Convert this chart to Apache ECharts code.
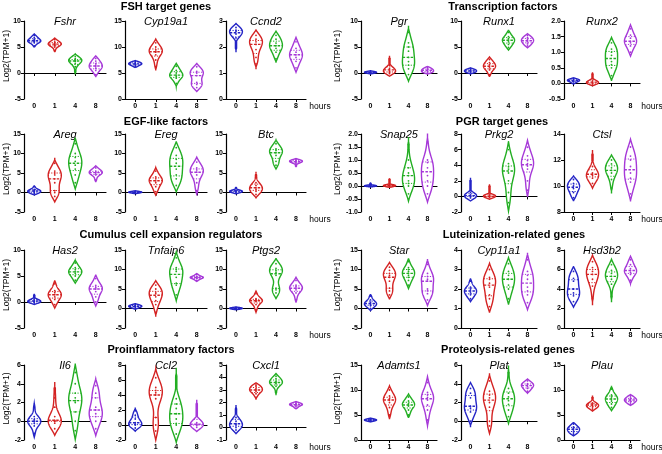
<!DOCTYPE html>
<html><head><meta charset="utf-8">
<script src="https://cdn.jsdelivr.net/npm/echarts@6/dist/echarts.min.js"></script>
<style>html,body{margin:0;padding:0;background:#fff}#c{width:662px;height:454px}</style>
</head><body><div id="c"></div>
<script>
// ---------- data ----------
const hours = ['0', '1', '4', '8'];
const genes = ['Fshr','Cyp19a1','Ccnd2','Pgr','Runx1','Runx2',
               'Areg','Ereg','Btc','Snap25','Prkg2','Ctsl',
               'Has2','Tnfaip6','Ptgs2','Star','Cyp11a1','Hsd3b2',
               'Il6','Ccl2','Cxcl1','Adamts1','Plat','Plau'];
const groupTitles = ['FSH target genes','Transcription factors','EGF-like factors','PGR target genes',
                     'Cumulus cell expansion regulators','Luteinization-related genes','Proinflammatory factors','Proteolysis-related genes'];
const yMin  = [-5, 0, 0, -5, -5, -0.5,  -5, -5, -5, -1, -2, 8,  -5, -5, -5, -5, 0, 0,  -2, -2, -1, 0, -2, 0];
const yMax  = [10, 15, 3, 10, 10, 2,    15, 15, 15, 2, 8, 14,   10, 15, 15, 15, 4, 8,   6, 8, 5, 15, 6, 15];
const yStep = [5, 5, 1, 5, 5, 0.5,      5, 5, 5, 0.5, 2, 2,     5, 5, 5, 5, 1, 2,       2, 2, 1, 5, 2, 5];
const yDec  = [0, 0, 0, 0, 0, 1,        0, 0, 0, 1, 0, 0,       0, 0, 0, 0, 0, 0,       0, 0, 0, 0, 0, 0];

// per gene: samples (Log2(TPM+1)) at 0, 1, 4, 8 hours
const Fshr    = [[5.2,5.8,6.0,6.3,6.5,6.8,7.2,6.1],[4.3,5.0,5.3,5.6,5.8,6.0,6.4,5.5],[0.2,1.2,1.8,2.2,2.5,2.8,3.2,2.4],[-0.3,0.5,0.9,1.2,1.5,1.8,2.3,2.8]];
const Cyp19a1 = [[6.2,6.5,6.8,7.0,6.7,7.2],[6.2,7.5,8.5,9.0,9.2,9.5,10.0,10.8],[3.0,4.0,4.3,4.6,5.0,5.5,6.3],[2.2,2.8,3.2,4.5,5.0,5.3,6.2]];
const Ccnd2   = [[1.95,2.35,2.5,2.6,2.65,2.75],[1.35,1.6,1.9,2.1,2.2,2.3,2.45],[1.55,1.8,1.95,2.05,2.15,2.3,2.45],[1.2,1.45,1.6,1.7,1.8,1.95,2.2]];
const Pgr     = [[0.0,0.05,0.1,0.15,0.2,0.25],[-0.1,0.1,0.3,0.6,0.9,1.5,2.8],[-0.3,0.8,1.5,2.2,3.0,4.2,5.0,5.8,7.8],[0.0,0.2,0.4,0.6,0.8,1.1]];
const Runx1   = [[0.0,0.2,0.3,0.5,0.6,0.8],[-0.3,0.6,1.0,1.3,1.6,2.0,2.6],[4.9,5.5,6.0,6.3,6.6,7.0,7.8],[5.2,5.6,6.0,6.2,6.5,6.8,7.2]];
const Runx2   = [[0.0,0.05,0.08,0.1,0.12,0.15],[-0.02,0.0,0.02,0.04,0.08,0.15,0.3],[0.25,0.5,0.6,0.7,0.9,1.0,1.1,1.3],[1.0,1.2,1.3,1.35,1.45,1.55,1.75]];
const Areg    = [[-0.3,0.0,0.3,0.5,0.8,1.5],[-1.0,0.0,0.5,2.5,3.5,4.5,5.0,5.5,7.5],[2.5,4.5,6.0,7.0,8.0,9.0,10.0,12.5],[3.2,4.5,5.0,5.2,5.5,6.3]];
const Ereg    = [[-0.1,0.0,0.05,0.1,0.15,0.2],[0.2,1.5,2.5,3.0,3.5,4.0,5.5],[1.8,3.5,4.5,6.0,7.5,8.5,9.5,11.5],[0.5,2.5,4.5,5.2,5.8,6.3,7.8]];
const Btc     = [[-0.1,0.1,0.3,0.4,0.6,1.2],[-0.5,0.3,0.8,1.2,1.8,2.5,4.5],[7.0,8.0,9.5,10.2,10.8,11.2,12.5],[6.8,7.5,7.8,8.0,8.2,8.4]];
const Snap25  = [[0.0,0.0,0.0,0.0,0.02,0.1],[0.0,0.0,0.0,0.02,0.05,0.25],[-0.3,0.0,0.1,0.2,0.4,0.5,0.7,1.0,1.6],[-0.3,0.0,0.2,0.4,0.7,0.9,1.0,1.7]];
const Prkg2   = [[-0.2,0.0,0.0,0.1,0.2,0.5,2.0],[-0.1,0.0,0.0,0.0,0.1,0.3,1.3],[-0.8,0.5,2.0,3.0,3.5,3.8,4.2,6.0],[0.8,2.0,3.5,3.9,4.2,4.6,5.2,6.3]];
const Ctsl    = [[9.1,9.5,9.8,10.0,10.2,10.5],[10.2,10.6,10.8,10.9,11.0,11.5,12.4],[9.8,10.5,11.0,11.2,11.4,11.7,12.0],[9.4,10.3,10.6,11.0,11.5,12.0,12.3,13.0]];
const Has2    = [[-0.2,0.0,0.1,0.3,0.6,1.3],[-0.5,0.5,1.0,1.4,1.8,2.2,3.5],[4.2,5.0,5.5,5.8,6.2,6.6,7.5],[0.0,1.0,2.0,2.5,2.8,3.2,4.5]];
const Tnfaip6 = [[0.0,0.3,0.5,0.6,0.8,1.0],[-1.0,1.0,2.0,3.0,3.8,4.2,5.0,6.0],[3.5,6.0,6.5,8.0,9.5,10.0,10.5,13.0],[7.2,7.7,7.9,8.0,8.2,8.7]];
const Ptgs2   = [[-0.1,0.0,0.0,0.05,0.1,0.15],[-0.3,1.0,1.8,2.0,2.2,2.5,3.8],[4.0,4.8,5.2,8.5,9.3,9.8,10.3,11.5],[2.3,4.0,4.8,5.2,5.6,6.0,7.2]];
const Star    = [[0.0,0.7,1.0,1.3,1.6,2.2,3.2],[3.5,4.5,5.2,7.0,8.0,8.5,9.0,9.8,10.6],[6.0,7.2,8.0,8.5,9.0,9.5,10.0,10.5,12.0],[2.2,3.8,4.5,5.0,7.0,7.5,8.2,9.0,11.3]];
const Cyp11a1 = [[1.5,1.7,1.8,1.9,2.0,2.1,2.4],[1.1,1.5,1.7,2.1,2.3,2.5,2.6,3.0],[1.5,2.0,2.2,2.5,2.7,2.9,3.3],[1.3,1.7,1.9,2.1,2.5,2.7,2.9,3.5]];
const Hsd3b2  = [[2.7,3.3,3.6,4.0,4.8,5.1,5.8],[3.0,4.3,5.0,5.5,5.8,6.2,6.8],[3.2,4.5,5.0,5.3,5.6,5.9,6.5],[4.9,5.5,5.7,5.9,6.1,6.5,7.0]];
const Il6     = [[-1.3,-0.5,-0.2,0.0,0.0,0.2,0.5,1.5],[-0.8,-0.2,0.0,0.0,0.1,0.5,1.5,2.5,3.5],[-1.0,0.0,1.0,2.0,2.2,2.5,3.0,4.0,5.2],[-0.8,0.0,0.5,0.8,1.2,1.5,2.5,3.0,3.8]];
const Ccl2    = [[-0.4,0.0,0.1,0.3,0.8,1.3,1.9],[-0.8,0.0,1.0,3.5,4.0,4.3,4.6,5.0,6.3],[-1.2,0.0,0.2,0.8,1.5,2.2,2.8,3.5,6.5],[-0.3,0.0,0.0,0.1,0.3,1.2,2.8]];
const Cxcl1   = [[-0.2,0.0,0.2,0.3,0.5,0.8,1.5],[2.4,2.7,2.9,3.0,3.1,3.3,3.4],[2.8,3.3,3.5,3.6,3.7,3.9,4.1],[1.55,1.7,1.8,1.85,1.9,2.0]];
const Adamts1 = [[3.8,3.9,4.0,4.1,4.2],[5.0,6.5,7.5,8.0,8.3,8.8,10.0],[5.0,6.0,6.8,7.0,7.3,7.8,8.6],[4.0,6.0,7.0,8.0,8.5,9.0,9.5,11.5]];
const Plat    = [[0.0,1.0,1.4,1.6,2.5,3.0,3.5],[-0.5,0.0,1.5,2.0,2.5,2.8,3.2,4.3],[0.5,1.2,1.8,2.2,2.6,3.0,3.5,5.2],[3.2,3.5,3.7,3.9,4.0,4.3]];
const Plau    = [[1.2,1.6,2.0,2.3,2.6,3.2],[6.2,6.6,6.9,7.1,7.4,8.5],[6.5,7.2,7.8,8.2,8.6,9.0,10.2],[7.2,7.6,7.9,8.1,8.4,8.8]];

const geneData = [Fshr,Cyp19a1,Ccnd2,Pgr,Runx1,Runx2,Areg,Ereg,Btc,Snap25,Prkg2,Ctsl,
                  Has2,Tnfaip6,Ptgs2,Star,Cyp11a1,Hsd3b2,Il6,Ccl2,Cxcl1,Adamts1,Plat,Plau];

// ---------- layout / style ----------
const colors = ['#2424c6', '#d42222', '#22ae22', '#a638d8'];
const FONT = 'Liberation Sans, Arial, Helvetica, sans-serif';
const colLeft  = [24, 125, 226, 361, 461, 564];
const colWidth = [82, 82, 80, 76, 76, 76];
const rowTop = [21, 134, 250, 365];
const rowH   = [78, 78, 78, 75];
const titleY = [7, 122, 235, 350];
const titleX = [166, 503, 166, 502, 171, 514, 171, 508];

function quantile(s, q) {
  const pos = (s.length - 1) * q, b = Math.floor(pos), r = pos - b;
  return s[b + 1] !== undefined ? s[b] + r * (s[b + 1] - s[b]) : s[b];
}

function makeRender(p) {
  return function (params, api) {
    const g = api.value(0);
    const vals = geneData[p][g].slice().sort((a, b) => a - b);
    const n = vals.length;
    const vmin = vals[0], vmax = vals[n - 1];
    const mean = vals.reduce((a, b) => a + b, 0) / n;
    const sd = Math.sqrt(vals.reduce((a, b) => a + (b - mean) * (b - mean), 0) / (n - 1));
    const range = yMax[p] - yMin[p];
    const h = Math.max(0.85 * sd * Math.pow(n, -0.2), range * 0.014);
    const ext = 0.9 * h;
    const lo = vmin - ext, hi = vmax + ext;
    const steps = 90;
    const kde = y => { let d = 0; for (const v of vals) { const z = (y - v) / h; d += Math.exp(-0.5 * z * z); } return d; };
    const prof = [];
    let dmax = 0;
    for (let k = 0; k <= steps; k++) { const y = lo + (hi - lo) * k / steps; const d = kde(y); prof.push([y, d]); if (d > dmax) dmax = d; }
    const thr = Math.max(prof[0][1], prof[steps][1]) / dmax;
    const minW = 0.09;
    const wOf = (y, d) => {
      let w = Math.max(0, (d / dmax - thr) / (1 - thr));
      if (y >= vmin && y <= vmax) w = Math.max(w, minW);
      else {
        const dist = y < vmin ? vmin - y : y - vmax;
        w = Math.max(w, minW * Math.max(0, 1 - dist / (0.35 * ext)));
      }
      return w;
    };
    const cx = api.coord([g, 0])[0];
    const halfW = api.size([1, 0])[0] * 0.32;
    const right = [], left = [];
    for (let k = 0; k <= steps; k++) {
      const py = api.coord([g, prof[k][0]])[1];
      const w = wOf(prof[k][0], prof[k][1]) * halfW;
      right.push([cx + w, py]);
      left.unshift([cx - w, py]);
    }
    const col = colors[g];
    const children = [{
      type: 'polygon', shape: { points: right.concat(left) },
      style: { fill: '#ffffff', stroke: col, lineWidth: 1.4 }
    }];
    const qs = [[0.25, [1.2, 1.5], 1], [0.5, [2.5, 1.5], 1.4], [0.75, [1.2, 1.5], 1]];
    for (const [q, dash, lw] of qs) {
      const yv = quantile(vals, q);
      const w = wOf(yv, kde(yv)) * halfW;
      const py = api.coord([g, yv])[1];
      children.push({ type: 'line', shape: { x1: cx - w, y1: py, x2: cx + w, y2: py },
        style: { stroke: col, lineWidth: lw, lineDash: dash } });
    }
    for (const v of vals) {
      const pt = api.coord([g, v]);
      children.push({ type: 'circle', shape: { cx: cx, cy: pt[1], r: 0.9 }, style: { fill: col } });
    }
    return { type: 'group', children: children };
  };
}

const grid = [], xAxis = [], yAxis = [], series = [], graphic = [];
for (let p = 0; p < genes.length; p++) {
  const row = Math.floor(p / 6), col = p % 6;
  grid.push({ left: colLeft[col], top: rowTop[row], width: colWidth[col], height: rowH[row] });
  xAxis.push({ type: 'category', gridIndex: p, data: hours, boundaryGap: true,
    axisLine: { lineStyle: { color: '#000', width: 1.2 } },
    axisTick: { show: true, alignWithLabel: true, length: 3, lineStyle: { color: '#000', width: 1 } },
    axisLabel: { fontSize: 7, fontWeight: 'bold', color: '#000', margin: 4, fontFamily: FONT } });
  const dec = yDec[p];
  yAxis.push({ type: 'value', gridIndex: p, min: yMin[p], max: yMax[p], interval: yStep[p],
    splitLine: { show: false },
    axisLine: { show: true, lineStyle: { color: '#000', width: 1.2 } },
    axisTick: { show: true, length: 3, lineStyle: { color: '#000', width: 1 } },
    axisLabel: { fontSize: 7, fontWeight: 'bold', color: '#000', margin: 3, fontFamily: FONT,
      formatter: v => Number(v).toFixed(dec) } });
  series.push({ type: 'custom', xAxisIndex: p, yAxisIndex: p, renderItem: makeRender(p),
    data: hours.map((hh, i) => [i, Math.min(...geneData[p][i]), Math.max(...geneData[p][i])]),
    encode: { x: 0, y: [1, 2] }, clip: false, silent: true });
  // panel (gene) name
  graphic.push({ type: 'text', x: colLeft[col] + colWidth[col] / 2, y: rowTop[row] + 1,
    style: { text: genes[p], font: 'italic 11px ' + FONT, fill: '#000', textAlign: 'center', textVerticalAlign: 'middle' } });
}
// group titles
for (let t = 0; t < groupTitles.length; t++) {
  const row = Math.floor(t / 2);
  graphic.push({ type: 'text', x: titleX[t], y: titleY[row],
    style: { text: groupTitles[t], font: 'bold 11px ' + FONT, fill: '#000', textAlign: 'center', textVerticalAlign: 'middle' } });
}
// y-axis titles and "hours"
for (let r = 0; r < 4; r++) {
  for (const xx of [7, 338]) {
    graphic.push({ type: 'text', x: xx, y: rowTop[r] + rowH[r] / 2 - 4, rotation: Math.PI / 2,
      style: { text: 'Log2(TPM+1)', font: '8.5px ' + FONT, fill: '#000', textAlign: 'center', textVerticalAlign: 'middle' } });
  }
  for (const xx of [320, 652]) {
    graphic.push({ type: 'text', x: xx, y: rowTop[r] + rowH[r] + 8,
      style: { text: 'hours', font: '8.5px ' + FONT, fill: '#000', textAlign: 'center', textVerticalAlign: 'middle' } });
  }
}

const chart = echarts.init(document.getElementById('c'), null, { renderer: 'canvas' });
chart.setOption({ animation: false, backgroundColor: '#fff', grid, xAxis, yAxis, series, graphic });
</script>
</body></html>
